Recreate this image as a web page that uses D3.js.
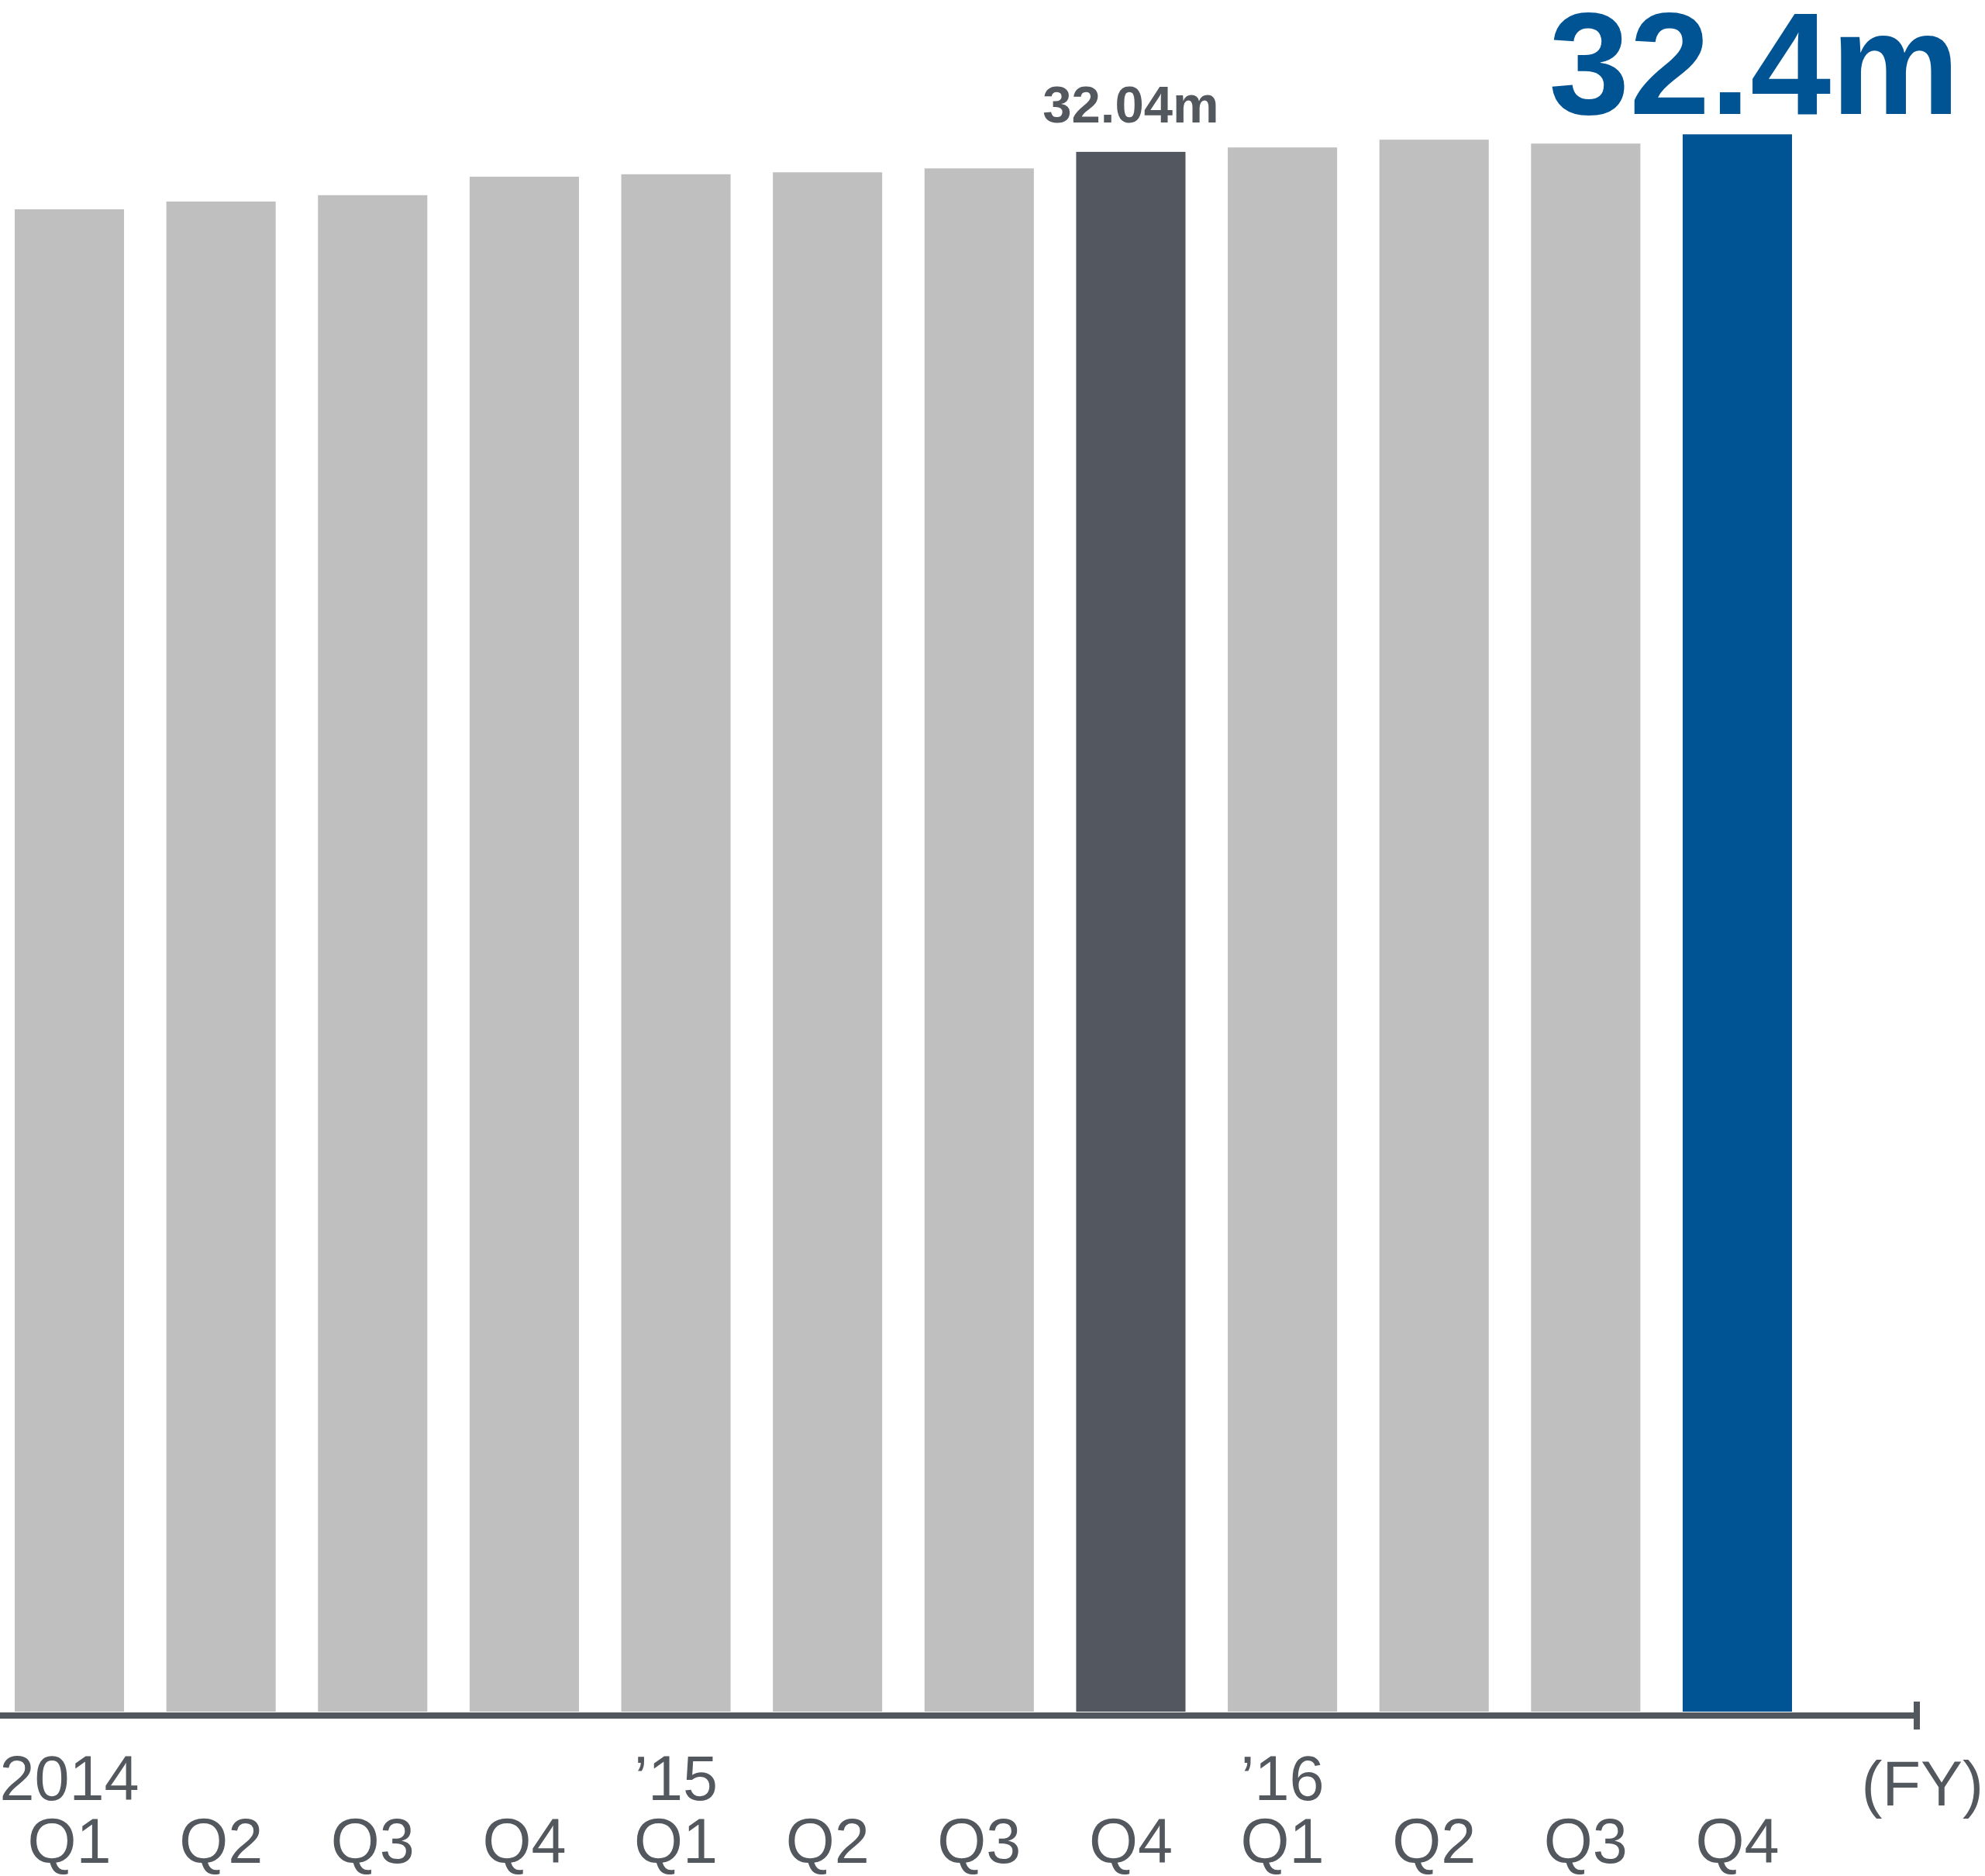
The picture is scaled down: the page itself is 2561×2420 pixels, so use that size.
<!DOCTYPE html>
<html>
<head>
<meta charset="utf-8">
<script src="https://cdn.jsdelivr.net/npm/d3@7"></script>
<style>
  html, body { margin: 0; padding: 0; background: #ffffff; }
  svg { display: block; }
  text { font-family: "Liberation Sans", Arial, Helvetica, sans-serif; }
</style>
</head>
<body>
<svg id="chart" width="2561" height="2420"></svg>
<script>
// Quarterly values (millions), FY2014 Q1 through FY2016 Q4
const categories = ["2014Q1", "2014Q2", "2014Q3", "2014Q4",
                    "2015Q1", "2015Q2", "2015Q3", "2015Q4",
                    "2016Q1", "2016Q2", "2016Q3", "2016Q4"];
const values = [30.86, 31.02, 31.15, 31.53, 31.58, 31.62, 31.70, 32.04, 32.13, 32.29, 32.21, 32.4];
const quarterLabels = ["Q1", "Q2", "Q3", "Q4", "Q1", "Q2", "Q3", "Q4", "Q1", "Q2", "Q3", "Q4"];
const yearLabels = ["2014", "", "", "", "\u201915", "", "", "", "\u201916", "", "", ""];
const unitLabel = "(FY)";
// Highlighted bars and their value labels
const highlightPrev = "2015Q4";
const highlightCurr = "2016Q4";

const colors = {
  bar: "#bfbfbf",
  prev: "#53575f",
  curr: "#005494",
  text: "#53575e"
};

const svg = d3.select("#chart");
const width = 2561;

const baseY = 2208;
const x = d3.scaleBand()
  .domain(categories)
  .range([19, 2312])
  .paddingInner(0.279)
  .paddingOuter(0);

const y = d3.scaleLinear()
  .domain([0, 35])
  .range([baseY, baseY - 35 * 62.8]);

// Bars
svg.append("g")
  .selectAll("rect")
  .data(categories)
  .join("rect")
  .attr("x", d => x(d))
  .attr("width", x.bandwidth())
  .attr("y", (d, i) => y(values[i]))
  .attr("height", (d, i) => y(0) - y(values[i]))
  .attr("fill", d => d === highlightCurr ? colors.curr : d === highlightPrev ? colors.prev : colors.bar);

// Baseline with an end tick
const axisEnd = 2473;
svg.append("line")
  .attr("x1", 0).attr("x2", axisEnd + 4)
  .attr("y1", y(0) + 5).attr("y2", y(0) + 5)
  .attr("stroke", colors.text).attr("stroke-width", 8);
svg.append("line")
  .attr("x1", axisEnd).attr("x2", axisEnd)
  .attr("y1", y(0) - 13).attr("y2", y(0) + 23)
  .attr("stroke", colors.text).attr("stroke-width", 8);

// Quarter labels via bottom axis
const qAxis = d3.axisBottom(x)
  .tickSize(0)
  .tickFormat((d, i) => quarterLabels[i]);
const qg = svg.append("g")
  .attr("transform", `translate(0,${y(0)})`)
  .call(qAxis);
qg.select(".domain").remove();
qg.selectAll("text")
  .attr("y", 0)
  .attr("dy", 0)
  .attr("transform", "translate(0,195)")
  .attr("font-size", 81)
  .attr("font-family", "'Liberation Sans', Arial, sans-serif")
  .attr("fill", colors.text);

// Year labels
svg.append("g")
  .selectAll("text")
  .data(categories)
  .join("text")
  .attr("x", d => x(d) + x.bandwidth() / 2)
  .attr("y", y(0) + 114)
  .attr("text-anchor", "middle")
  .attr("font-size", 81)
  .attr("fill", colors.text)
  .text((d, i) => yearLabels[i]);

// Unit label, kept inside the right edge
svg.append("text")
  .attr("x", width - 2)
  .attr("y", y(0) + 121)
  .attr("text-anchor", "end")
  .attr("font-size", 81)
  .attr("fill", colors.text)
  .text(unitLabel);

// Value labels on highlighted bars
const iPrev = categories.indexOf(highlightPrev);
const iCurr = categories.indexOf(highlightCurr);

svg.append("text")
  .attr("x", x(highlightPrev) + x.bandwidth() / 2)
  .attr("y", y(values[iPrev]) - 38)
  .attr("text-anchor", "middle")
  .attr("font-size", 67)
  .attr("font-weight", "bold")
  .attr("fill", colors.text)
  .text(values[iPrev].toFixed(2) + "m");

svg.append("text")
  .attr("x", x(highlightCurr) + x.bandwidth() / 2 + 22)
  .attr("y", y(values[iCurr]) - 26)
  .attr("text-anchor", "middle")
  .attr("font-size", 187)
  .attr("font-weight", "bold")
  .attr("fill", colors.curr)
  .text(values[iCurr].toFixed(1) + "m");
</script>
</body>
</html>
